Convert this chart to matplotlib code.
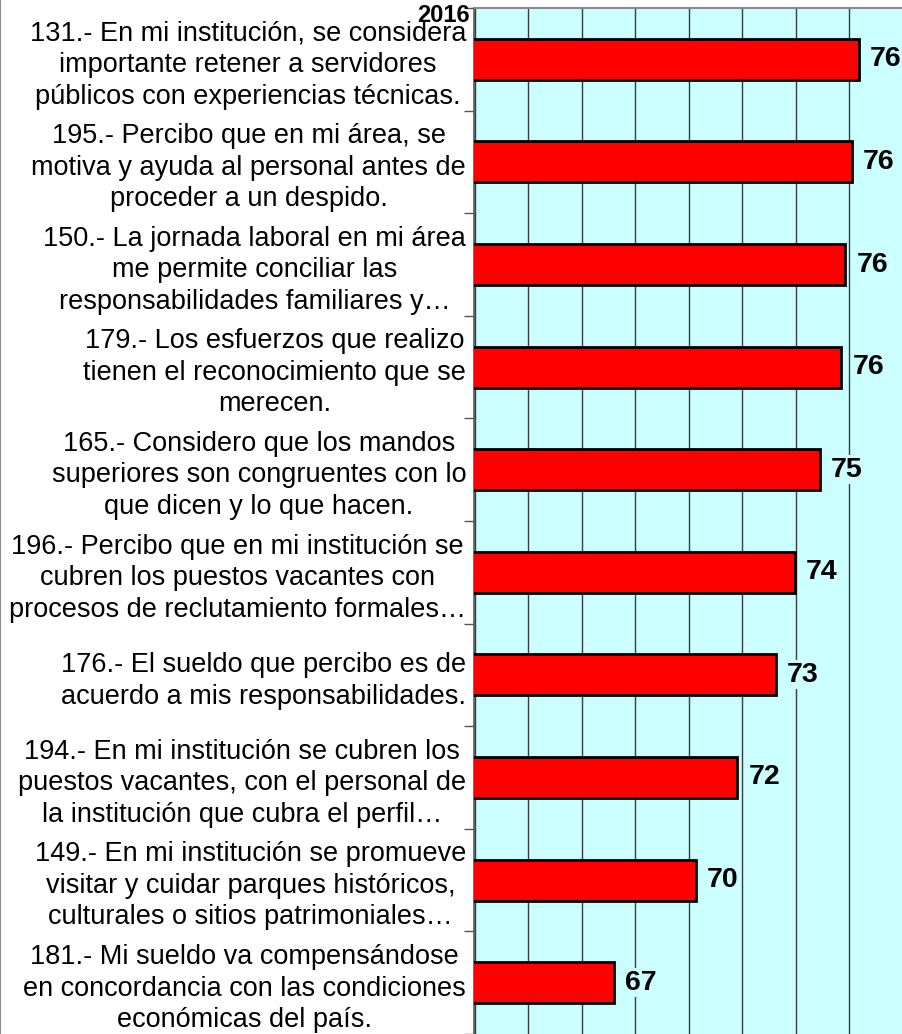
import numpy as np
import matplotlib
matplotlib.use('Agg')
import matplotlib.pyplot as plt
from matplotlib.lines import Line2D

plt.rcParams['font.family'] = ['Liberation Sans', 'DejaVu Sans']

# questions, top to bottom
labels = [
    "131.- En mi institución, se considera\nimportante retener a servidores\npúblicos con experiencias técnicas.",
    "195.- Percibo que en mi área, se\nmotiva y ayuda al personal antes de\nproceder a un despido.",
    "150.- La jornada laboral en mi área\nme permite conciliar las\nresponsabilidades familiares y…",
    "179.- Los esfuerzos que realizo\ntienen el reconocimiento que se\nmerecen.",
    "165.- Considero que los mandos\nsuperiores son congruentes con lo\nque dicen y lo que hacen.",
    "196.- Percibo que en mi institución se\ncubren los puestos vacantes con\nprocesos de reclutamiento formales…",
    "176.- El sueldo que percibo es de\nacuerdo a mis responsabilidades.",
    "194.- En mi institución se cubren los\npuestos vacantes, con el personal de\nla institución que cubra el perfil…",
    "149.- En mi institución se promueve\nvisitar y cuidar parques históricos,\nculturales o sitios patrimoniales…",
    "181.- Mi sueldo va compensándose\nen concordancia con las condiciones\neconómicas del país.",
]
# 2016 scores
values = [76.35, 76.10, 75.84, 75.70, 74.90, 73.96, 73.24, 71.81, 70.27, 67.20]
year = "2016"

W, H = 903, 1034
fig = plt.figure(figsize=(W / 100, H / 100), dpi=100)
ax_left = 474.5 / W
ax_top = 8 / H
ax = fig.add_axes([ax_left, 0, 1 - ax_left, 1 - ax_top])
ax.set_facecolor('#CCFFFF')

y = np.arange(len(values))
ax.barh(y, values, height=0.4, left=0, color='#FF0000', edgecolor='black',
        linewidth=2, zorder=3)

ax.set_xlim(62, 78)
ax.set_ylim(9.44, -0.5)
ax.set_xticks(np.arange(62, 79, 2))
ax.xaxis.grid(True, color='#3a3a3a', linewidth=1, zorder=1)
ax.set_axisbelow(True)
ax.tick_params(axis='x', length=0, labelbottom=False)

# category labels
ax.set_yticks(y)
ax.set_yticklabels(labels, fontsize=19.5, linespacing=1.28)
for t in ax.get_yticklabels():
    t.set_multialignment('center')
ax.tick_params(axis='y', which='major', length=0, pad=6)
ax.set_yticks(np.arange(-0.5, len(values), 1), minor=True)
ax.tick_params(axis='y', which='minor', length=7, width=1, color='#555555')

for s in ['right', 'bottom']:
    ax.spines[s].set_visible(False)
ax.spines['left'].set_color('#555555')
ax.spines['left'].set_linewidth(1.2)
ax.spines['top'].set_color('#8a8a8a')
ax.spines['top'].set_linewidth(1.5)

# value labels
for yi, v in zip(y, values):
    ax.annotate(f"{v:.0f}", xy=(v, yi), xytext=(8, 0), textcoords='offset points',
                ha='left', va='center', fontsize=20.5, fontweight='bold', zorder=4,
                bbox=dict(facecolor='#CCFFFF', edgecolor='none', pad=1))

fig.text(470 / W, 1 - 22 / H, year, ha='right', va='baseline',
         fontsize=17, fontweight='bold')
fig.add_artist(Line2D([0.5 / W, 0.5 / W], [0, 1], color='#8a8a8a', linewidth=1.5))

fig.savefig('out.png', dpi=100)
